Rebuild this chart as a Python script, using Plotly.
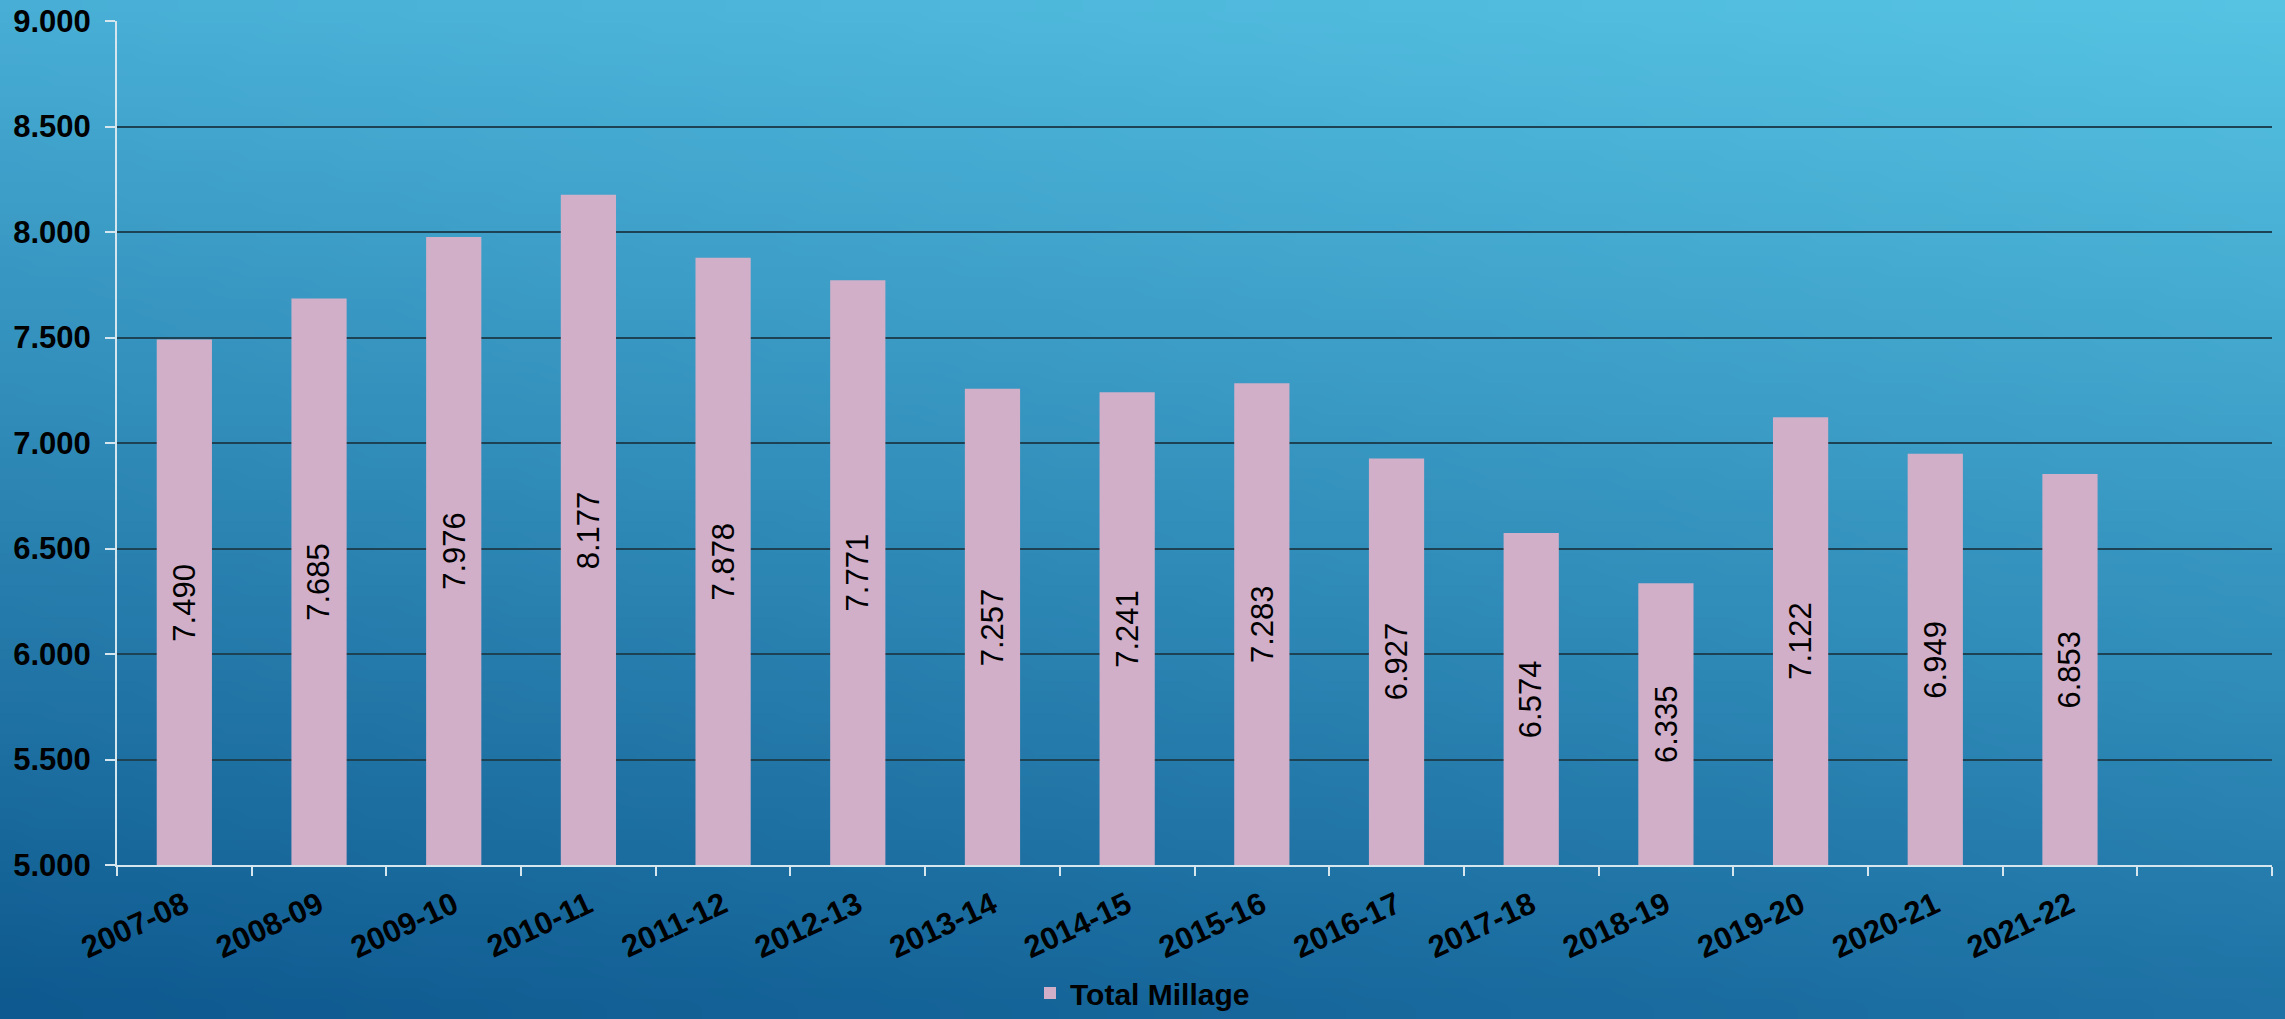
import zlib, struct, base64
import plotly.graph_objects as go

# ---- data ----
categories = ["2007-08", "2008-09", "2009-10", "2010-11", "2011-12", "2012-13", "2013-14",
              "2014-15", "2015-16", "2016-17", "2017-18", "2018-19", "2019-20", "2020-21", "2021-22"]
total_millage = [7.490, 7.685, 7.976, 8.177, 7.878, 7.771, 7.257, 7.241, 7.283, 6.927,
                 6.574, 6.335, 7.122, 6.949, 6.853]
series_name = "Total Millage"
y_min, y_max = 5.0, 9.0
n_slots = len(categories) + 1  # one empty slot at the end

# ---- layout geometry ----
W, H = 2285, 1019
ML, MR, MT, MB = 117, 13, 21, 154
PW, PH = W - ML - MR, H - MT - MB

# ---- gradient background (PNG generated in pure python) ----
def make_png(w, h, corners):
    tl, tr, bl, br = corners
    rows = []
    for j in range(h):
        v = j / (h - 1)
        row = bytearray([0])
        for i in range(w):
            u = i / (w - 1)
            px = []
            for k in range(3):
                top = tl[k] * (1 - u) + tr[k] * u
                bot = bl[k] * (1 - u) + br[k] * u
                px.append(int(round(top * (1 - v) + bot * v)))
            row.extend(px)
        rows.append(bytes(row))
    raw = b"".join(rows)

    def chunk(t, d):
        c = struct.pack(">I", len(d)) + t + d
        return c + struct.pack(">I", zlib.crc32(t + d) & 0xffffffff)

    return (b"\x89PNG\r\n\x1a\n"
            + chunk(b"IHDR", struct.pack(">IIBBBBB", w, h, 8, 2, 0, 0, 0))
            + chunk(b"IDAT", zlib.compress(raw))
            + chunk(b"IEND", b""))

corners = [(0x48, 0xae, 0xd5), (0x56, 0xc3, 0xe3), (0x0e, 0x59, 0x8f), (0x1e, 0x72, 0xa5)]
png_uri = "data:image/png;base64," + base64.b64encode(make_png(96, 48, corners)).decode()

x_idx = list(range(len(categories)))

fig = go.Figure()
fig.add_trace(go.Bar(
    x=x_idx,
    y=total_millage,
    name=series_name,
    marker=dict(color="#d1afc8", line=dict(width=0)),
    showlegend=True,
))

# value labels, rotated, centred in each bar
for xi, v in zip(x_idx, total_millage):
    fig.add_annotation(
        x=xi, y=(y_min + v) / 2, xref="x", yref="y",
        text=f"{v:.3f}", textangle=-90, showarrow=False,
        font=dict(family="Liberation Sans, Arial, sans-serif", size=31, color="black"),
    )

light = "#d5e6ef"
grid = "#1c4253"
bold_font = dict(family="Liberation Sans, Arial, sans-serif", size=31, color="black", weight="bold")

fig.update_layout(
    width=W, height=H,
    margin=dict(l=ML, r=MR, t=MT, b=MB, autoexpand=False),
    paper_bgcolor="#2a86b8",
    plot_bgcolor="rgba(0,0,0,0)",
    bargap=0.59,
    images=[dict(
        source=png_uri, xref="paper", yref="paper",
        x=-ML / PW, y=1 + MT / PH, sizex=W / PW, sizey=H / PH,
        xanchor="left", yanchor="top", sizing="stretch", layer="below",
    )],
    xaxis=dict(
        range=[-0.5, n_slots - 0.5],
        tickmode="array",
        tickvals=x_idx,
        ticktext=categories,
        ticks="",
        tickangle=-25,
        ticklabelstandoff=8,
        tickfont=bold_font,
        showgrid=False,
        zeroline=False,
        showline=True, linecolor=light, linewidth=2,
        minor=dict(tickmode="array", tickvals=[i - 0.5 for i in range(n_slots + 1)],
                   ticks="outside", ticklen=9, tickwidth=2, tickcolor=light, showgrid=False),
        fixedrange=True,
    ),
    yaxis=dict(
        range=[y_min, y_max],
        dtick=0.5,
        tick0=y_min,
        tickformat=".3f",
        ticks="outside", ticklen=10, tickwidth=2, tickcolor=light,
        ticklabelstandoff=8,
        tickfont=bold_font,
        showgrid=True, gridcolor=grid, gridwidth=2,
        zeroline=False,
        showline=True, linecolor=light, linewidth=2,
        fixedrange=True,
    ),
    legend=dict(
        orientation="h",
        xref="container", yref="container",
        x=0.5, xanchor="center", y=0.0, yanchor="bottom",
        font=dict(family="Liberation Sans, Arial, sans-serif", size=30, color="black", weight="bold"),
        bgcolor="rgba(0,0,0,0)",
    ),
)

fig.write_html(
    "out.html",
    config={"displayModeBar": False},
    post_script="document.body.style.margin='0';document.body.style.padding='0';"
                "document.body.style.overflow='hidden';",
)
